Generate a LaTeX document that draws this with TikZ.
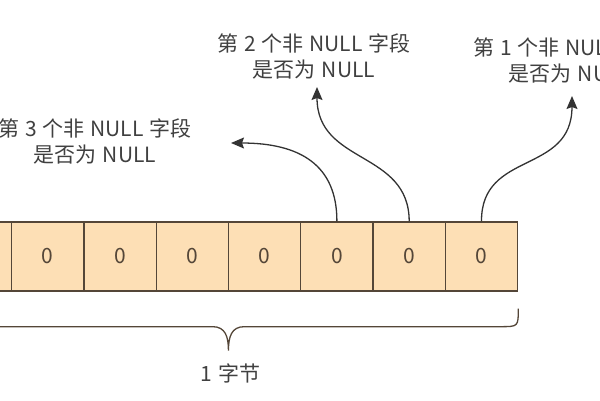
\documentclass[tikz,border=0pt]{standalone}
\usepackage{fontspec}
\newfontfamily\cjk[WordSpace=1.25]{Noto Sans CJK SC}
\usepackage{xcolor}
\usepackage{tikz}
\usetikzlibrary{arrows.meta,positioning,calc}

\definecolor{cellfill}{RGB}{253,223,181}
\definecolor{celldraw}{RGB}{84,70,56}
\definecolor{textgray}{RGB}{64,64,64}
\definecolor{arrowgray}{RGB}{51,51,51}

\begin{document}
\begin{tikzpicture}[
    >={Stealth[length=13pt,width=11pt,inset=2pt]},
    x=1pt, y=-1pt,
    bitcell/.style={draw=celldraw,line width=1.3pt,fill=cellfill,
                    minimum width=72.3pt,minimum height=69pt,inner sep=0pt,
                    font=\cjk\fontsize{21}{21}\selectfont,text=celldraw},
    caption/.style={align=center,font=\cjk\fontsize{21}{26}\selectfont,
                    text=textgray,inner sep=0pt},
    pointer/.style={->,arrowgray,line width=1.3pt},
  ]

  \clip (0,0) rectangle (600,400);

  % --- the bits of the byte, c1 is the rightmost one ---
  \foreach \i in {1,...,8}
    \node[bitcell] (c\i) at ({481.5-(\i-1)*72.3},256.5) {0};

  % --- captions above the cells ---
  \node[caption] (lab1) at (570,60)  {第 1 个非 NULL 字段\\是否为 NULL};
  \node[caption] (lab2) at (314,56)  {第 2 个非 NULL 字段\\是否为 NULL};
  \node[caption] (lab3) at (95,141)  {第 3 个非 NULL 字段\\是否为 NULL};

  % arrow tips sit a little away from the captions
  \coordinate (tip1) at (572,96);
  \coordinate (tip2) at (317,87);
  \coordinate (tip3) at (231,143);

  \draw[pointer] (c1.north) .. controls (481,150) and (572,175) .. (tip1);
  \draw[pointer] (c2.north) .. controls (409,150) and (317,165) .. (tip2);
  \draw[pointer] (c3.north) .. controls (337,165) and (300,143) .. (tip3);

  % --- brace under the whole byte ---
  \coordinate (bl) at ($(c8.south west)+(0,17)$);
  \coordinate (br) at ($(c1.south east)+(0,17)$);
  \coordinate (bmid) at ($(bl)!0.5!(br)+(0,42)$);
  \draw[celldraw,line width=1.3pt]
    (br) .. controls ($(br)+(0,18)$) .. ($(br)+(-18,18)$)
    -- ($(bmid)+(16,-24)$)
    .. controls ($(bmid)+(3,-24)$) and ($(bmid)+(0,-14)$) .. (bmid)
    .. controls ($(bmid)+(0,-14)$) and ($(bmid)+(-3,-24)$) .. ($(bmid)+(-16,-24)$)
    -- ($(bl)+(18,18)$)
    .. controls ($(bl)+(0,18)$) .. (bl);

  \node[caption] (bytelbl) at ($(bmid)+(2,23)$) {1 字节};

\end{tikzpicture}
\end{document}
